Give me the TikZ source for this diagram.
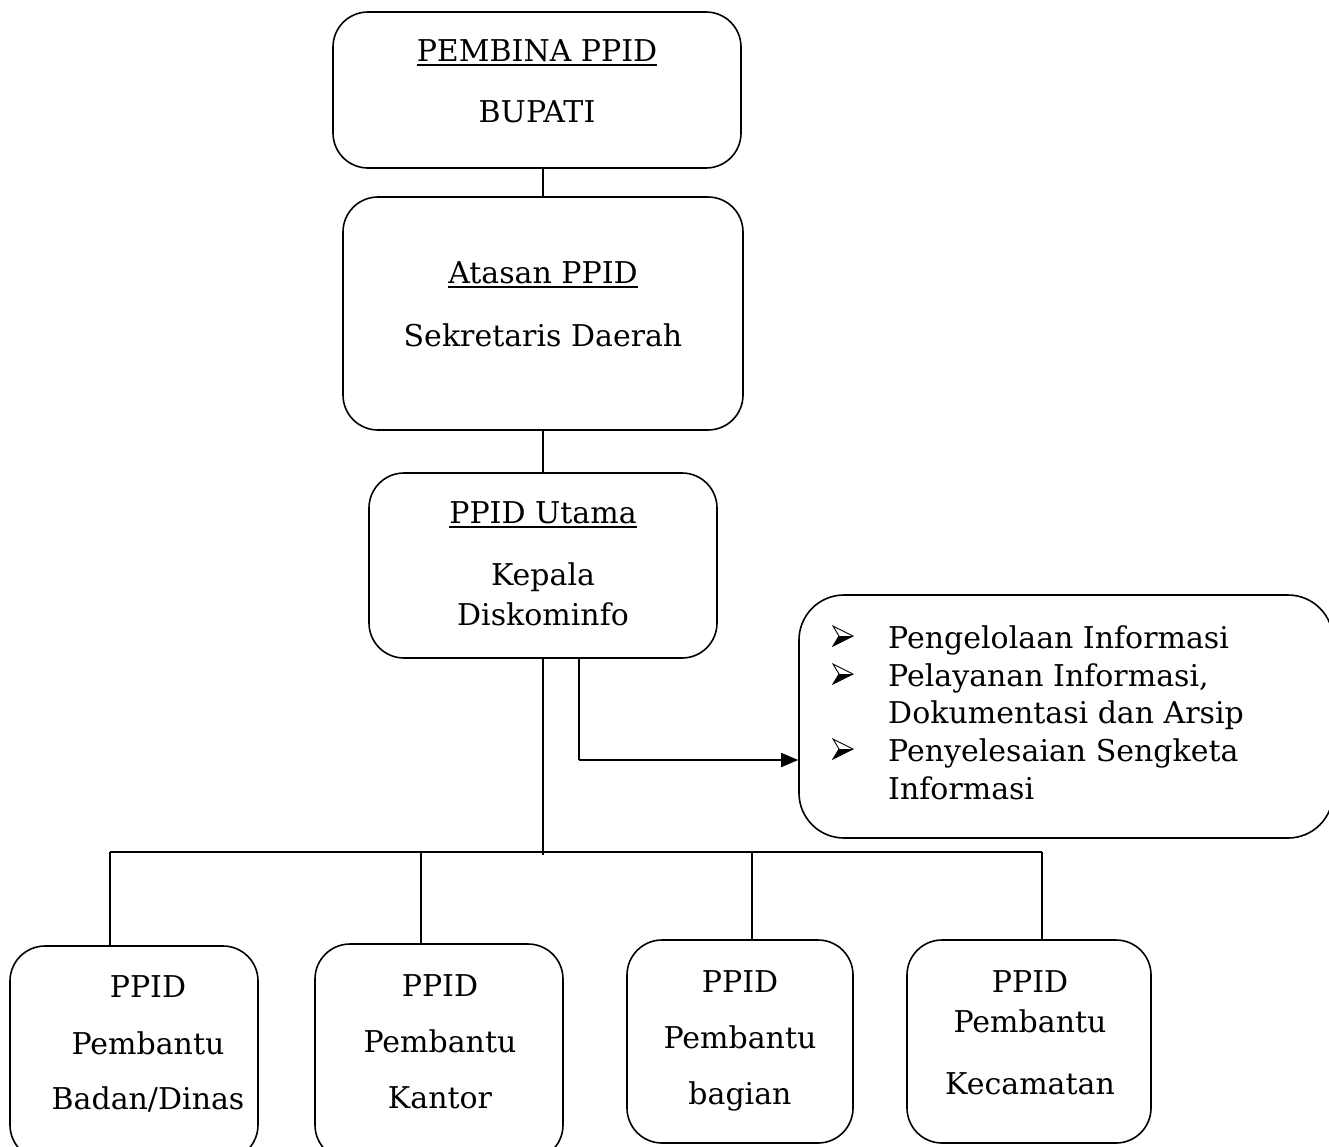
\documentclass[tikz,border=0pt]{standalone}
\usepackage{fontspec}
\setmainfont{DejaVu Serif}
\usetikzlibrary{arrows.meta}
\newcommand\myul[1]{\setbox0\hbox{#1}\rlap{\rule[-5pt]{\wd0}{1.6pt}}\box0}
\begin{document}
\begin{tikzpicture}[x=1pt,y=-1pt,
 box/.style={draw,line width=1.6pt,rounded corners=35pt,inner sep=0pt},
 txt/.style={font=\fontsize{30}{36}\selectfont,anchor=base,inner sep=0pt},
 ltxt/.style={font=\fontsize{30}{36}\selectfont,anchor=base west,inner sep=0pt},
 wire/.style={line width=1.6pt},
 pics/bul/.style={code={
   \fill[white] (-10,-10) -- (10,0) -- (-10,10) -- (-4,0) -- cycle;
   \fill[black] (-4,0) -- (10,0) -- (-10,10) -- cycle;
   \draw[line width=0.9pt,line join=miter] (-10,-10) -- (10,0) -- (-10,10) -- (-4,0) -- cycle;
 }}]
\useasboundingbox (0,0) rectangle (1329,1146);

% boxes
\node[box,minimum width=408pt,minimum height=156pt] (pembina) at (537,90) {};
\node[box,minimum width=400pt,minimum height=233pt] (atasan) at (543,313.5) {};
\node[box,minimum width=348pt,minimum height=185pt] (utama) at (543,565.5) {};
\node[box,rounded corners=45pt,minimum width=534pt,minimum height=243pt] (tugas) at (1066,716.5) {};
\node[box,minimum width=248pt,minimum height=214pt] (b1) at (134,1053) {};
\node[box,minimum width=248pt,minimum height=216pt] (b2) at (439,1052) {};
\node[box,minimum width=226pt,minimum height=203pt] (b3) at (740,1041.5) {};
\node[box,minimum width=244pt,minimum height=203pt] (b4) at (1029,1041.5) {};

% texts
\node[txt] (t1a) at (537,61) {\myul{PEMBINA PPID}};
\node[txt] (t1b) at (537,122) {BUPATI};
\node[txt] (t2a) at (543,283) {\myul{Atasan PPID}};
\node[txt] (t2b) at (543,346) {Sekretaris Daerah};
\node[txt] (t3a) at (543,523) {\myul{PPID Utama}};
\node[txt] (t3b) at (543,585) {Kepala};
\node[txt] (t3c) at (543,625) {Diskominfo};

\pic at (843,636) {bul};
\pic at (843,674) {bul};
\pic at (843,749) {bul};
\node[ltxt] (l1) at (888,648) {Pengelolaan Informasi};
\node[ltxt] (l2) at (888,686) {Pelayanan Informasi,};
\node[ltxt] (l3) at (888,723) {Dokumentasi dan Arsip};
\node[ltxt] (l4) at (888,761) {Penyelesaian Sengketa};
\node[ltxt] (l5) at (888,799) {Informasi};

\node[txt] (b1a) at (148,997) {PPID};
\node[txt] (b1b) at (148,1054) {Pembantu};
\node[txt] (b1c) at (148,1109) {Badan/Dinas};
\node[txt] (b2a) at (440,996) {PPID};
\node[txt] (b2b) at (440,1052) {Pembantu};
\node[txt] (b2c) at (440,1108) {Kantor};
\node[txt] (b3a) at (740,992) {PPID};
\node[txt] (b3b) at (740,1048) {Pembantu};
\node[txt] (b3c) at (740,1104) {bagian};
\node[txt] (b4a) at (1030,992) {PPID};
\node[txt] (b4b) at (1030,1032) {Pembantu};
\node[txt] (b4c) at (1030,1094) {Kecamatan};

% connectors
\draw[wire] (atasan.north) -- (atasan.north |- pembina.south);
\draw[wire] (utama.north) -- (utama.north |- atasan.south);
\coordinate (bus) at (543,855);
\draw[wire] (utama.south) -- (bus);
\coordinate (c1) at (110,852);
\coordinate (c2) at (421,852);
\coordinate (c3) at (752,852);
\coordinate (c4) at (1042,852);
\draw[wire] (c1) -- (c4);
\draw[wire] (c1) -- (c1 |- b1.north);
\draw[wire] (c2) -- (c2 |- b2.north);
\draw[wire] (c3) -- (c3 |- b3.north);
\draw[wire] (c4) -- (c4 |- b4.north);
\coordinate (ar) at (579,760);
\draw[wire] (ar |- utama.south) -- (ar);
\draw[wire,-{Triangle[length=17pt,width=14pt]}] (ar) -- (ar -| tugas.west);
\end{tikzpicture}
\end{document}
